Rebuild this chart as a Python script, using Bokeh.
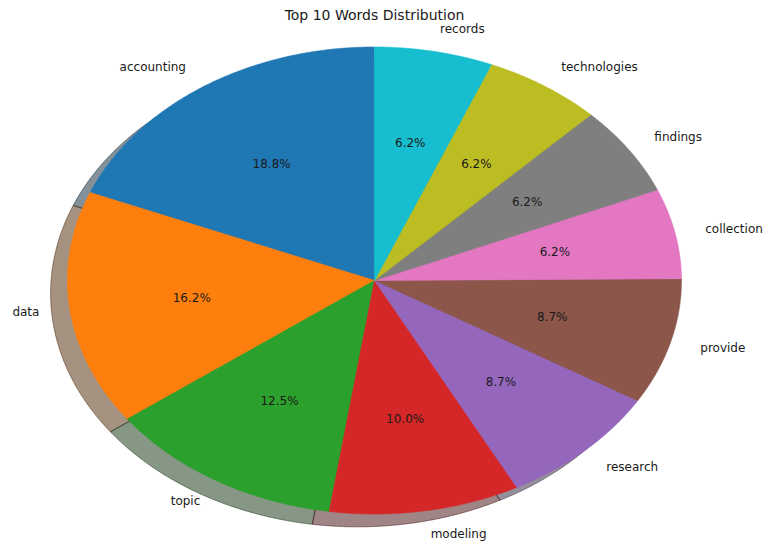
import numpy as np
from bokeh.plotting import figure
from bokeh.models import ColumnDataSource, Range1d, Label
from bokeh.core.properties import value
from bokeh.embed import file_html
from bokeh.resources import INLINE

# ---- data ----
words = ["accounting", "data", "topic", "modeling", "research",
         "provide", "collection", "findings", "technologies", "records"]
percents = [18.8, 16.2, 12.5, 10.0, 8.7, 8.7, 6.2, 6.2, 6.2, 6.2]
colors = ["#1f77b4", "#ff7f0e", "#2ca02c", "#d62728", "#9467bd",
          "#8c564b", "#e377c2", "#7f7f7f", "#bcbd22", "#17becf"]
title_text = "Top 10 Words Distribution"

# ---- pie geometry (unit circle, stretched by the axis scales) ----
START_ANGLE = 90.0
LABEL_DIST = 1.1
PCT_DIST = 0.6
SHADOW = 0.055

vals = np.array(percents, dtype=float)
fracs = vals / vals.sum()
ends = START_ANGLE + np.cumsum(fracs) * 360.0
starts = ends - fracs * 360.0
mids = np.radians((starts + ends) / 2.0)

xs, ys, sxs, sys_ = [], [], [], []
for a0, a1 in zip(starts, ends):
    t = np.radians(np.linspace(a0, a1, 160))
    px = np.concatenate([[0.0], np.cos(t)])
    py = np.concatenate([[0.0], np.sin(t)])
    xs.append(px.tolist())
    ys.append(py.tolist())
    sxs.append((px - SHADOW).tolist())
    sys_.append((py - SHADOW).tolist())


def shade(hexcol):
    h = hexcol.lstrip("#")
    r, g, b = (int(h[i:i + 2], 16) for i in (0, 2, 4))
    return "#%02x%02x%02x" % (int(r * 0.3), int(g * 0.3), int(b * 0.3))


shadow_colors = [shade(c) for c in colors]

wedge_src = ColumnDataSource(dict(xs=xs, ys=ys, color=colors))
shadow_src = ColumnDataSource(dict(xs=sxs, ys=sys_, color=shadow_colors))

lx = LABEL_DIST * np.cos(mids)
ly = LABEL_DIST * np.sin(mids)
label_src = ColumnDataSource(dict(
    x=lx.tolist(), y=ly.tolist(), text=words,
    align=["right" if v < 0 else "left" for v in lx]))
pct_src = ColumnDataSource(dict(
    x=(PCT_DIST * np.cos(mids)).tolist(),
    y=(PCT_DIST * np.sin(mids)).tolist(),
    text=["%.1f%%" % v for v in percents]))

W, H = 763, 544
CX, CY, RX, RY = 374.0, 280.0, 307.0, 233.5
p = figure(width=W, height=H,
           x_range=Range1d(-CX / RX, (W - CX) / RX),
           y_range=Range1d(-(H - CY) / RY, CY / RY),
           output_backend="svg", toolbar_location=None, min_border=0,
           x_axis_location=None, y_axis_location=None)
p.grid.visible = False
p.outline_line_color = None
p.background_fill_color = "white"
p.border_fill_color = "white"

p.patches("xs", "ys", source=shadow_src, fill_color="color", fill_alpha=0.5,
          line_color="color", line_alpha=0.5, line_width=1)
p.patches("xs", "ys", source=wedge_src, fill_color="color",
          line_color="color", line_width=0.6)

p.text("x", "y", text="text", source=label_src, text_align="align",
       text_baseline="middle", text_font=value("DejaVu Sans"),
       text_font_size="12px", text_color="#1a1a1a")
p.text("x", "y", text="text", source=pct_src, text_align="center",
       text_baseline="middle", text_font=value("DejaVu Sans"),
       text_font_size="12px", text_color="#1a1a1a")

p.add_layout(Label(x=0, y=(CY - 14.5) / RY, text=title_text, text_align="center",
                   text_baseline="middle", text_font="DejaVu Sans",
                   text_font_size="14px", text_color="#1a1a1a"))

open("out.html", "w").write(file_html(p, INLINE))
